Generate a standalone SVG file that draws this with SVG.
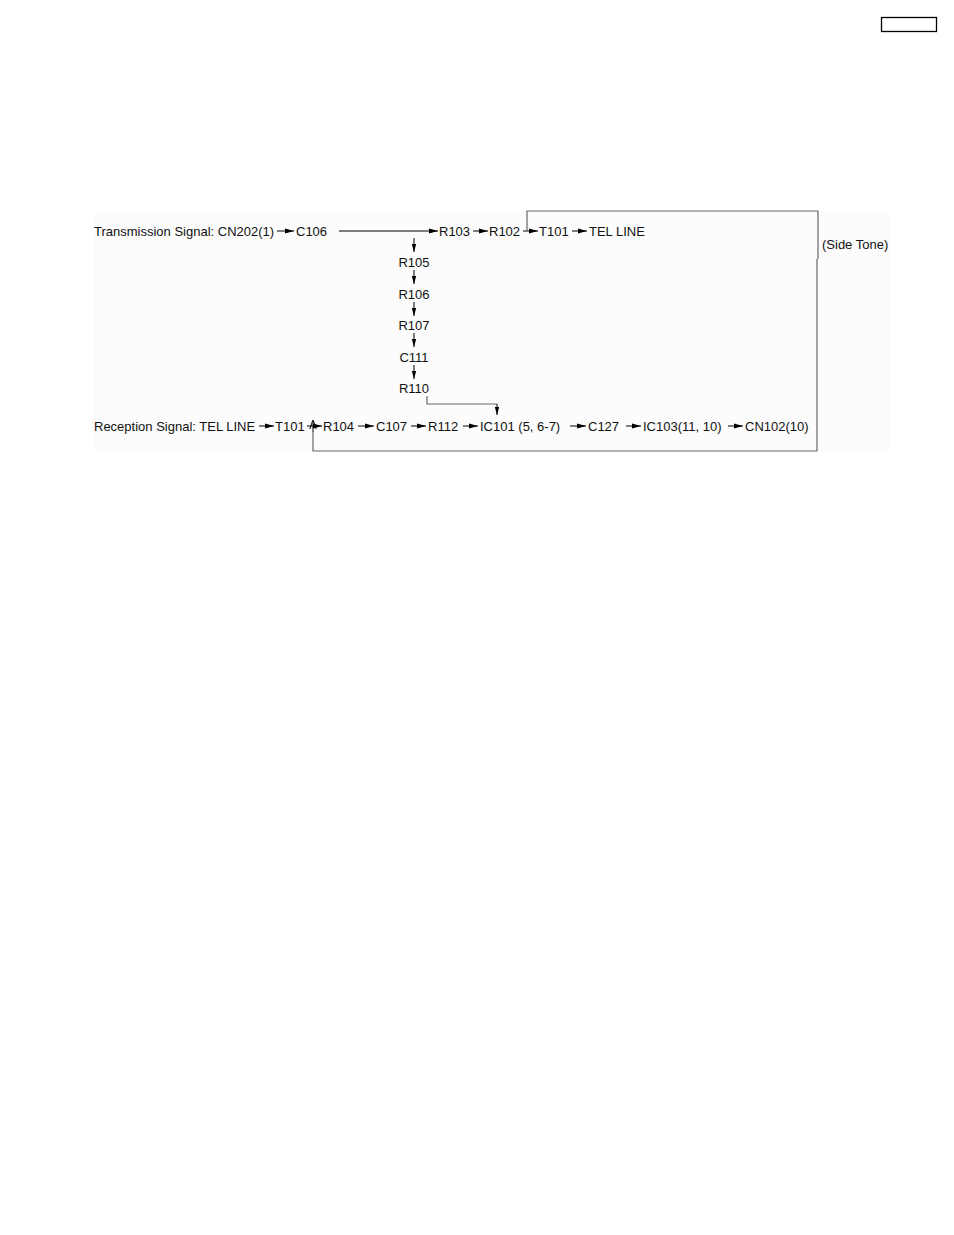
<svg xmlns="http://www.w3.org/2000/svg" width="954" height="1235" viewBox="0 0 954 1235">
<defs>
<marker id="ah" viewBox="0 0 10 6" refX="10" refY="3" markerWidth="9" markerHeight="5.4" markerUnits="userSpaceOnUse" orient="auto">
<path d="M0,0.3 L10,3 L0,5.7 Z" fill="#000"/>
</marker>
<marker id="av" viewBox="0 0 10 6" refX="10" refY="3" markerWidth="8" markerHeight="4.8" markerUnits="userSpaceOnUse" orient="auto">
<path d="M0,0.2 L10,3 L0,5.8 Z" fill="#000"/>
</marker>
<marker id="open" viewBox="0 0 10 10" refX="10" refY="5" markerWidth="9" markerHeight="9" markerUnits="userSpaceOnUse" orient="auto">
<path d="M0,1.5 L10,5 L0,8.5" fill="none" stroke="#222" stroke-width="1.3"/>
</marker>
</defs>
<style>
text{font-family:"Liberation Sans",Arial,sans-serif;font-size:13px;fill:#111}
.l{stroke:#000;stroke-width:1;fill:none}
.g{stroke:#666;stroke-width:1.2;fill:none}
</style>
<rect width="954" height="1235" fill="#fff"/>
<rect x="94" y="211" width="796" height="240" fill="#fcfcfc"/>
<rect id="tag" x="881.5" y="17.5" width="55" height="14" fill="none" stroke="#000" stroke-width="1.3"/>

<g id="connectors">
<line class="l" x1="277" y1="231" x2="294" y2="231" marker-end="url(#ah)"/>
<line class="l" x1="339" y1="231" x2="438" y2="231" marker-end="url(#ah)"/>
<line class="l" x1="473" y1="231" x2="488" y2="231" marker-end="url(#ah)"/>
<line class="l" x1="523" y1="231" x2="538" y2="231" marker-end="url(#ah)"/>
<line class="l" x1="572" y1="231" x2="587" y2="231" marker-end="url(#ah)"/>
<line class="l" x1="414" y1="238" x2="414" y2="252" marker-end="url(#av)"/>
<line class="l" x1="414" y1="270" x2="414" y2="284" marker-end="url(#av)"/>
<line class="l" x1="414" y1="302" x2="414" y2="316" marker-end="url(#av)"/>
<line class="l" x1="414" y1="333" x2="414" y2="347" marker-end="url(#av)"/>
<line class="l" x1="414" y1="365" x2="414" y2="379" marker-end="url(#av)"/>
<polyline class="g" points="427,396 427,404 497,404"/>
<line class="l" x1="497" y1="404" x2="497" y2="415" marker-end="url(#av)"/>
<polyline class="g" points="527,231 527,211 818,211 818,259"/>
<polyline class="g" points="817,259 817,451 313,451 313,424"/>
<line class="g" x1="313" y1="432" x2="313" y2="420" marker-end="url(#open)"/>
<line class="l" x1="259" y1="426" x2="274" y2="426" marker-end="url(#ah)"/>
<line class="l" x1="307" y1="426" x2="322" y2="426" marker-end="url(#ah)"/>
<line class="l" x1="358" y1="426" x2="374" y2="426" marker-end="url(#ah)"/>
<line class="l" x1="411" y1="426" x2="426" y2="426" marker-end="url(#ah)"/>
<line class="l" x1="463" y1="426" x2="478" y2="426" marker-end="url(#ah)"/>
<line class="l" x1="570" y1="426" x2="586" y2="426" marker-end="url(#ah)"/>
<line class="l" x1="626" y1="426" x2="641" y2="426" marker-end="url(#ah)"/>
<line class="l" x1="728" y1="426" x2="743" y2="426" marker-end="url(#ah)"/>
</g>

<g id="tx-label"><text x="94" y="235.5">Transmission Signal: CN202(1)</text></g>
<g id="C106"><text x="296" y="235.5">C106</text></g>
<g id="R103"><text x="439" y="235.5">R103</text></g>
<g id="R102"><text x="489" y="235.5">R102</text></g>
<g id="T101a"><text x="539" y="235.5">T101</text></g>
<g id="TELLINEa"><text x="589" y="235.5">TEL LINE</text></g>
<g id="sidetone"><text x="822" y="248.5">(Side Tone)</text></g>

<g id="R105"><text x="414" y="266.5" text-anchor="middle">R105</text></g>
<g id="R106"><text x="414" y="298.5" text-anchor="middle">R106</text></g>
<g id="R107"><text x="414" y="329.5" text-anchor="middle">R107</text></g>
<g id="C111"><text x="414" y="361.5" text-anchor="middle">C111</text></g>
<g id="R110"><text x="414" y="392.5" text-anchor="middle">R110</text></g>

<g id="rx-label"><text x="94" y="430.5">Reception Signal: TEL LINE</text></g>
<g id="T101b"><text x="275" y="430.5">T101</text></g>
<g id="R104"><text x="323" y="430.5">R104</text></g>
<g id="C107"><text x="376" y="430.5">C107</text></g>
<g id="R112"><text x="428" y="430.5">R112</text></g>
<g id="IC101"><text x="480" y="430.5">IC101 (5, 6-7)</text></g>
<g id="C127"><text x="588" y="430.5">C127</text></g>
<g id="IC103"><text x="643" y="430.5">IC103(11, 10)</text></g>
<g id="CN102"><text x="745" y="430.5">CN102(10)</text></g>
</svg>
